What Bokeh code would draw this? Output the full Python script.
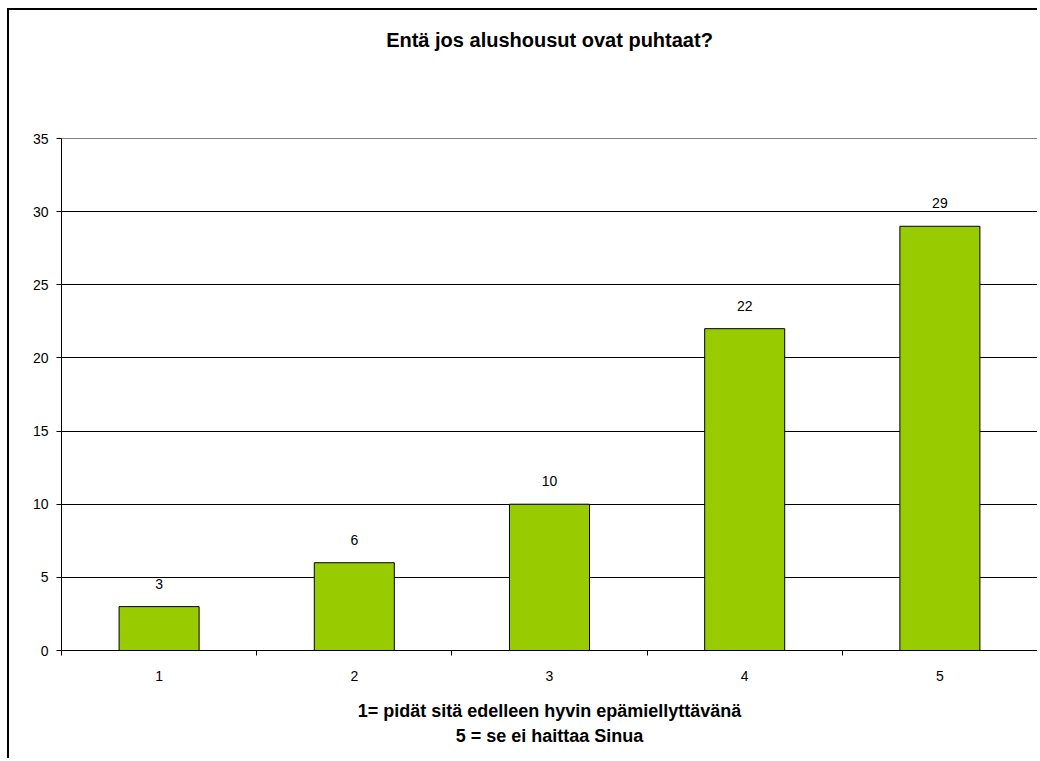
from bokeh.plotting import figure
from bokeh.models import ColumnDataSource, FixedTicker, LabelSet, Range1d, Title
from bokeh.core.properties import value
from bokeh.embed import file_html
from bokeh.resources import INLINE

# ---- data ----
categories = ["1", "2", "3", "4", "5"]
counts = [3, 6, 10, 22, 29]
y_ticks = [0, 5, 10, 15, 20, 25, 30, 35]
title_text = "Entä jos alushousut ovat puhtaat?"
x_label = "1= pidät sitä edelleen hyvin epämiellyttävänä\n5 = se ei haittaa Sinua"

FONT = "Liberation Sans"

x_pos = list(range(1, len(categories) + 1))
boundaries = [i + 0.5 for i in range(0, len(categories) + 1)]

src = ColumnDataSource(dict(x=x_pos, top=counts, label=[str(c) for c in counts]))

p = figure(
    width=1030, height=750, title=None,
    x_range=Range1d(0.5, len(categories) + 0.5),
    y_range=Range1d(y_ticks[0], y_ticks[-1]),
    output_backend="svg", toolbar_location=None,
    min_border_left=52, min_border_right=2,
    min_border_top=128, min_border_bottom=110,
)
p.styles = {"margin-left": "7px", "margin-top": "8px",
            "border-left": "2px solid black", "border-top": "2px solid black"}
p.background_fill_color = "white"
p.border_fill_color = "white"
p.outline_line_color = "#808080"
p.outline_line_width = 1

p.vbar(x="x", top="top", width=0.41, source=src,
       fill_color="#99CC00", line_color="black", line_width=1)

p.add_layout(LabelSet(x="x", y="top", text="label", source=src,
                      text_align="center", text_baseline="bottom", y_offset=18,
                      text_font=value(FONT), text_font_size="14px", text_color="black"))

# y axis
p.yaxis.ticker = FixedTicker(ticks=y_ticks)
p.yaxis.major_tick_out = 5
p.yaxis.major_tick_in = 0
p.yaxis.minor_tick_line_color = None
p.yaxis.axis_line_color = "black"
p.yaxis.major_tick_line_color = "black"
p.yaxis.major_label_text_font = FONT
p.yaxis.major_label_text_font_size = "14px"
p.yaxis.major_label_text_color = "black"
p.yaxis.major_label_standoff = 8

# x axis
p.xaxis.ticker = FixedTicker(ticks=x_pos, minor_ticks=boundaries)
p.xaxis.major_label_overrides = {xv: c for xv, c in zip(x_pos, categories)}
p.xaxis.major_tick_out = 0
p.xaxis.major_tick_in = 0
p.xaxis.minor_tick_out = 5
p.xaxis.minor_tick_in = 0
p.xaxis.minor_tick_line_color = "black"
p.xaxis.axis_line_color = "black"
p.xaxis.major_label_text_font = FONT
p.xaxis.major_label_text_font_size = "14px"
p.xaxis.major_label_text_color = "black"
p.xaxis.major_label_standoff = 15
p.xaxis.axis_label = x_label
p.xaxis.axis_label_text_font = FONT
p.xaxis.axis_label_text_font_size = "18px"
p.xaxis.axis_label_text_font_style = "bold"
p.xaxis.axis_label_text_color = "black"
p.xaxis.axis_label_text_line_height = 1.27
p.xaxis.axis_label_standoff = 17

# grid
p.xgrid.grid_line_color = None
p.ygrid.ticker = FixedTicker(ticks=y_ticks[1:-1])
p.ygrid.grid_line_color = "black"
p.ygrid.grid_line_width = 1

# spacer between the frame and the title (empty title panel)
p.add_layout(Title(text=" ", text_font_size="1px", standoff=80), "above")
# title
p.add_layout(Title(text=title_text, align="center", offset=-8, standoff=9,
                   text_font=FONT, text_font_size="20px", text_font_style="bold",
                   text_color="black"), "above")

open("out.html", "w").write(file_html(p, INLINE))
